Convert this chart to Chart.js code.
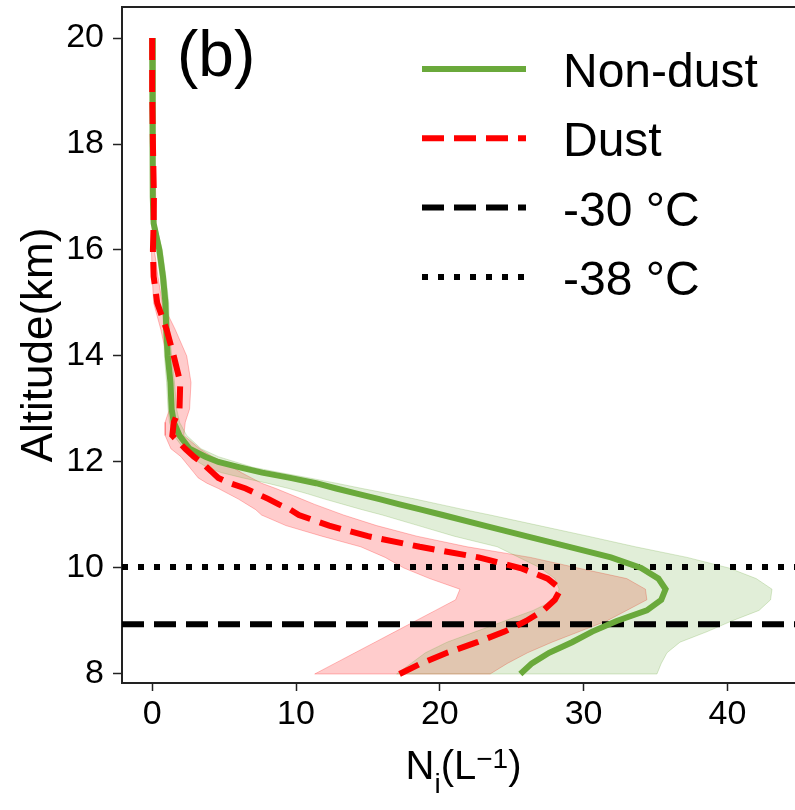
<!DOCTYPE html>
<html>
<head>
<meta charset="utf-8">
<script src="https://cdn.jsdelivr.net/npm/chart.js@4.4.1/dist/chart.umd.min.js"></script>
<style>
  html, body { margin: 0; padding: 0; background: #fff; }
  #caja { width: 795px; height: 810px; }
</style>
</head>
<body>
<div id="caja"><canvas id="myChart" width="795" height="810"></canvas></div>
<script>
// altitud (km) comun a todos los perfiles
const altitude = [20, 19, 18, 17, 16.5, 16, 15.5, 15, 14.5, 14, 13.5, 13, 12.75, 12.5, 12.25, 12.1, 12.0,
  11.9, 11.8, 11.7, 11.6, 11.5, 11.4, 11.3, 11.2, 11.1, 11.0, 10.8, 10.6, 10.4, 10.2, 10.0,
  9.8, 9.6, 9.4, 9.2, 9.0, 8.8, 8.6, 8.4, 8.2, 8.0];

// Non-dust: media y limites de la banda
const nonDust = [0, 0.02, 0.05, 0.05, 0.1, 0.5, 0.75, 0.92, 0.98, 1.08, 1.27, 1.35, 1.5, 1.9, 2.6, 3.7, 4.6,
  6.1, 7.65, 9.6, 11.4, 12.8, 14.3, 15.8, 17.2, 18.7, 20.2, 23.1, 26.0, 29.0, 31.9, 34.0,
  35.2, 35.7, 35.4, 34.4, 32.3, 30.6, 29.2, 27.6, 26.4, 25.6];
const nonDustLow = [-0.05, -0.05, 0, 0, 0, 0.3, 0.55, 0.7, 0.8, 0.85, 1.0, 1.1, 1.2, 1.5, 2.2, 2.8, 3.2,
  3.8, 4.8, 6.3, 8.0, 9.5, 10.8, 12.0, 13.3, 14.6, 16.0, 18.5, 21.0, 24.0, 25.5, 27.0,
  28.0, 28.3, 28.0, 26.5, 24.5, 22.5, 20.5, 19.0, 18.0, 17.0];
const nonDustHigh = [0.05, 0.1, 0.15, 0.15, 0.25, 0.7, 0.95, 1.15, 1.2, 1.35, 1.55, 1.7, 1.9, 2.4, 3.4, 4.6, 5.8,
  7.0, 8.9, 10.9, 12.8, 14.6, 16.5, 18.3, 20.0, 21.7, 23.5, 26.9, 30.3, 33.6, 37.2, 40.1,
  42.0, 43.1, 43.0, 42.2, 40.3, 38.6, 36.7, 35.8, 35.4, 35.1];

// Dust: media y limites de la banda
const dust = [0, 0, 0.05, 0.12, 0.1, 0.05, 0.1, 0.35, 1.0, 1.5, 1.95, 1.9, 1.5, 1.4, 2.3, 2.9, 3.4,
  3.8, 4.2, 4.6, 5.4, 6.5, 7.3, 8.1, 8.8, 9.6, 10.2, 12.3, 15.0, 18.6, 22.7, 25.6,
  27.5, 28.4, 28.0, 27.2, 26.0, 24.5, 22.6, 20.5, 18.7, 17.2];
const dustLow = [-0.05, -0.05, -0.05, 0, 0, -0.05, 0, 0.1, 0.6, 1.0, 1.2, 1.2, 0.9, 0.9, 1.3, 2.0, 2.3,
  2.6, 2.9, 3.2, 3.8, 4.6, 5.3, 6.0, 6.6, 7.2, 7.6, 9.3, 11.8, 14.5, 16.2, 17.5,
  19.3, 21.4, 21.1, 19.7, 18.3, 16.9, 15.5, 14.1, 12.7, 11.3];
const dustHigh = [0.05, 0.05, 0.15, 0.25, 0.2, 0.15, 0.4, 0.7, 1.6, 2.4, 2.7, 2.6, 2.3, 2.2, 3.3, 4.2, 5.0,
  5.6, 6.2, 6.9, 7.6, 8.6, 9.5, 10.4, 11.3, 12.3, 13.3, 15.6, 18.4, 21.9, 26.3, 29.6,
  33.0, 34.3, 34.4, 33.0, 31.6, 29.7, 27.8, 26.1, 24.7, 23.5];

// isotermas (altitud en km)
const tempLabels = ["-30 \u00b0C", "-38 \u00b0C"];
const tempAltitude = [8.94, 10.02];

// ejes
const xMin = -2.1, xMax = 44.7;
const yMin = 7.83, yMax = 20.585;
const xTicks = [0, 10, 20, 30, 40];
const yTicks = [8, 10, 12, 14, 16, 18, 20];

const fuente = "'Liberation Sans', Arial, sans-serif";

function perfil(valores) {
  return altitude.map((a, i) => ({ x: valores[i], y: a }));
}

function banda(bajo, alto) {
  const izq = altitude.map((a, i) => ({ x: bajo[i], y: a }));
  const der = altitude.map((a, i) => ({ x: alto[i], y: a })).reverse();
  return izq.concat(der);
}

function isoterma(alt) {
  return [{ x: xMin, y: alt }, { x: xMax, y: alt }];
}

const leyenda = {
  id: "leyenda",
  afterDraw(chart) {
    const ctx = chart.ctx;
    const area = chart.chartArea;
    ctx.save();

    // borde superior
    ctx.beginPath();
    ctx.strokeStyle = "#222";
    ctx.lineWidth = 2;
    ctx.moveTo(area.left, area.top);
    ctx.lineTo(area.right, area.top);
    ctx.stroke();

    // (b)
    ctx.fillStyle = "#000";
    ctx.font = "64px " + fuente;
    ctx.textBaseline = "alphabetic";
    ctx.textAlign = "left";
    ctx.fillText("(b)", 177, 76);

    // leyenda
    const items = chart.data.datasets.filter((d) => d.enLeyenda);
    items.forEach((d, i) => {
      const y = 69 + i * 69.3;
      ctx.beginPath();
      ctx.strokeStyle = d.borderColor;
      ctx.lineWidth = d.borderWidth;
      ctx.setLineDash(d.borderDash || []);
      ctx.moveTo(422, y);
      ctx.lineTo(526, y);
      ctx.stroke();
      ctx.setLineDash([]);
      ctx.fillStyle = "#000";
      ctx.font = "48px " + fuente;
      ctx.fillText(d.label, 563, y + 18);
    });

    // titulo eje x con subindice y superindice
    const partes = [
      { t: "N", size: 40, dy: 0 },
      { t: "i", size: 28, dy: 14 },
      { t: "(L", size: 40, dy: 0 },
      { t: "\u22121", size: 28, dy: -11 },
      { t: ")", size: 40, dy: 0 },
    ];
    let ancho = 0;
    partes.forEach((p) => {
      ctx.font = p.size + "px " + fuente;
      p.w = ctx.measureText(p.t).width;
      ancho += p.w;
    });
    let x = (area.left + area.right) / 2 + 5 - ancho / 2;
    partes.forEach((p) => {
      ctx.font = p.size + "px " + fuente;
      ctx.fillText(p.t, x, 779 + p.dy);
      x += p.w;
    });

    ctx.restore();
  },
};

const verde = "#6aa93b";
const rojo = "#ff0000";

const ctx = document.getElementById("myChart").getContext("2d");

new Chart(ctx, {
  type: "scatter",
  data: {
    datasets: [
      {
        label: "Non-dust",
        enLeyenda: true,
        data: perfil(nonDust),
        showLine: true,
        borderColor: verde,
        borderWidth: 6,
        pointRadius: 0,
        fill: false,
        order: 1,
      },
      {
        label: "Dust",
        enLeyenda: true,
        data: perfil(dust),
        showLine: true,
        borderColor: rojo,
        borderWidth: 6,
        borderDash: [22, 10],
        pointRadius: 0,
        fill: false,
        order: 0,
      },
      {
        label: tempLabels[0],
        enLeyenda: true,
        data: isoterma(tempAltitude[0]),
        showLine: true,
        borderColor: "#000",
        borderWidth: 6,
        borderDash: [22, 10],
        pointRadius: 0,
        fill: false,
        order: 2,
      },
      {
        label: tempLabels[1],
        enLeyenda: true,
        data: isoterma(tempAltitude[1]),
        showLine: true,
        borderColor: "#000",
        borderWidth: 6,
        borderDash: [6, 10],
        pointRadius: 0,
        fill: false,
        order: 2,
      },
      {
        label: "Non-dust banda",
        data: banda(nonDustLow, nonDustHigh),
        showLine: true,
        borderColor: "rgba(106,169,59,0.25)",
        borderWidth: 1,
        backgroundColor: "rgba(106,169,59,0.2)",
        pointRadius: 0,
        fill: "shape",
        order: 3,
      },
      {
        label: "Dust banda",
        data: banda(dustLow, dustHigh),
        showLine: true,
        borderColor: "rgba(255,0,0,0.25)",
        borderWidth: 1,
        backgroundColor: "rgba(255,0,0,0.2)",
        pointRadius: 0,
        fill: "shape",
        order: 4,
      },
    ],
  },
  options: {
    responsive: false,
    animation: false,
    devicePixelRatio: 1,
    layout: { autoPadding: false, padding: { top: 7, right: 0, left: 0, bottom: 0 } },
    plugins: {
      legend: { display: false },
      tooltip: { enabled: false },
    },
    scales: {
      x: {
        type: "linear",
        min: xMin,
        max: xMax,
        afterBuildTicks: (s) => {
          s.ticks = xTicks.map((v) => ({ value: v }));
        },
        afterFit: (s) => {
          s.height = 127;
          s.paddingLeft = 0;
          s.paddingRight = 0;
        },
        grid: { drawOnChartArea: false, drawTicks: true, tickLength: 8, tickColor: "#222", tickWidth: 1.5 },
        border: { display: true, color: "#222", width: 2 },
        ticks: { color: "#000", padding: 3, font: { size: 34, family: fuente }, maxRotation: 0 },
      },
      y: {
        type: "linear",
        min: yMin,
        max: yMax,
        afterBuildTicks: (s) => {
          s.ticks = yTicks.map((v) => ({ value: v }));
        },
        afterFit: (s) => {
          s.width = 122;
          s.paddingTop = 0;
          s.paddingBottom = 0;
        },
        grid: { drawOnChartArea: false, drawTicks: true, tickLength: 9, tickColor: "#222", tickWidth: 1.5 },
        border: { display: true, color: "#222", width: 2 },
        ticks: { color: "#000", padding: 9, font: { size: 34, family: fuente } },
        title: {
          display: true,
          text: "Altitude(km)",
          color: "#000",
          font: { size: 44, family: fuente },
          padding: { top: 13, bottom: 0 },
        },
      },
    },
  },
  plugins: [leyenda],
});
</script>
</body>
</html>
